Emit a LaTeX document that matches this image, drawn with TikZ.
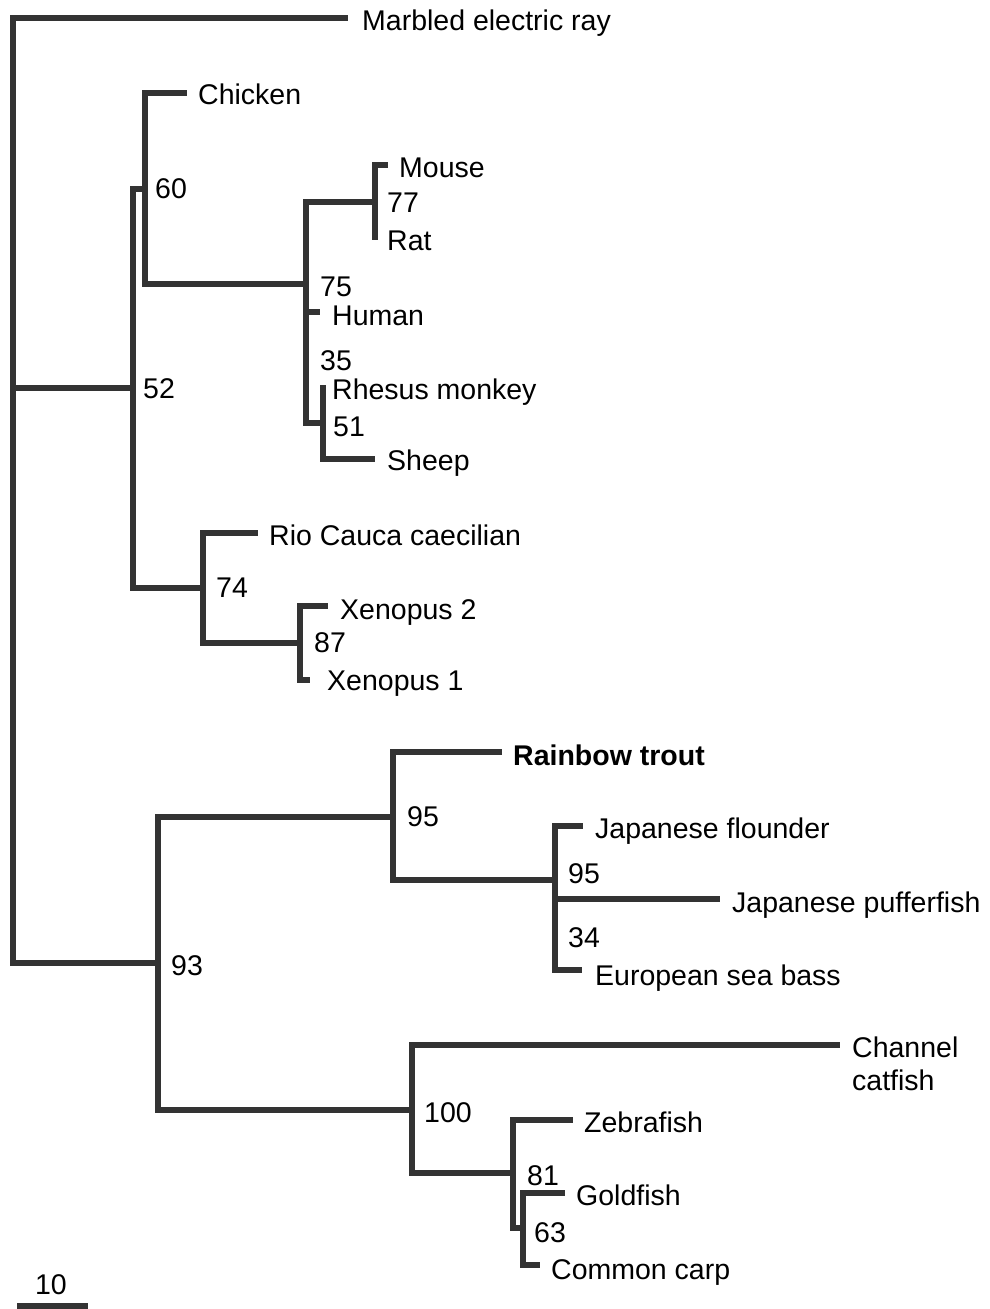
\documentclass[tikz,border=0pt]{standalone}
\usepackage{fontspec}
\setmainfont{Liberation Sans}
\begin{document}
\begin{tikzpicture}[x=1pt,y=-1pt,
  branch/.style={draw=black!80, line width=5.2pt, line join=miter},
  lbl/.style={anchor=base west, inner sep=0pt, font=\fontsize{28.5}{33}\selectfont},
  bs/.style={lbl}]
\useasboundingbox (0,0) rectangle (990,1309);
% internal nodes
\coordinate (root) at (13,388);
\coordinate (n52) at (133,388);
\coordinate (n60) at (145,189);
\coordinate (n75) at (306,284);
\coordinate (n77) at (375,202);
\coordinate (n51) at (323,423);
\coordinate (n74) at (203,588);
\coordinate (n87) at (300,643);
\coordinate (n93) at (158,963);
\coordinate (n95) at (393,817);
\coordinate (n95b) at (555,880);
\coordinate (n100) at (412,1110);
\coordinate (n81) at (513,1173);
\coordinate (n63) at (523,1228);
% leaf ends
\coordinate (eray) at (348,18);
\coordinate (echicken) at (187,93);
\coordinate (emouse) at (388,165);
\coordinate (erat) at (375,240);
\coordinate (ehuman) at (320,312);
\coordinate (erhesus) at (323,385);
\coordinate (esheep) at (375,459);
\coordinate (erio) at (258,533);
\coordinate (exen2) at (328,606);
\coordinate (exen1) at (310,680);
\coordinate (etrout) at (502,752);
\coordinate (eflounder) at (583,826);
\coordinate (epuffer) at (720,899);
\coordinate (ebass) at (582,970);
\coordinate (ecatfish) at (840,1045);
\coordinate (ezebra) at (573,1120);
\coordinate (egold) at (565,1193);
\coordinate (ecarp) at (540,1265);
% branches
\draw[branch] (root) |- (eray);
\draw[branch] (root) |- (n52);
\draw[branch] (root) |- (n93);
\draw[branch] (n52) |- (n60);
\draw[branch] (n52) |- (n74);
\draw[branch] (n60) |- (echicken);
\draw[branch] (n60) |- (n75);
\draw[branch] (n75) |- (n77);
\draw[branch] (n75) |- (ehuman);
\draw[branch] (n75) |- (n51);
\draw[branch] (n77) |- (emouse);
\draw[branch] (n77) |- (erat);
\draw[branch] (n51) |- (erhesus);
\draw[branch] (n51) |- (esheep);
\draw[branch] (n74) |- (erio);
\draw[branch] (n74) |- (n87);
\draw[branch] (n87) |- (exen2);
\draw[branch] (n87) |- (exen1);
\draw[branch] (n93) |- (n95);
\draw[branch] (n93) |- (n100);
\draw[branch] (n95) |- (etrout);
\draw[branch] (n95) |- (n95b);
\draw[branch] (n95b) |- (eflounder);
\draw[branch] (n95b) |- (epuffer);
\draw[branch] (n95b) |- (ebass);
\draw[branch] (n100) |- (ecatfish);
\draw[branch] (n100) |- (n81);
\draw[branch] (n81) |- (ezebra);
\draw[branch] (n81) |- (n63);
\draw[branch] (n63) |- (egold);
\draw[branch] (n63) |- (ecarp);
% leaf labels
\node[lbl] (tray) at (362,30) {Marbled electric ray};
\node[lbl] (tchicken) at (198,104) {Chicken};
\node[lbl] (tmouse) at (399,177) {Mouse};
\node[lbl] (trat) at (387,250) {Rat};
\node[lbl] (thuman) at (332,325) {Human};
\node[lbl] (trhesus) at (332,399) {Rhesus monkey};
\node[lbl] (tsheep) at (387,470) {Sheep};
\node[lbl] (trio) at (269,545) {Rio Cauca caecilian};
\node[lbl] (txen2) at (340,619) {Xenopus 2};
\node[lbl] (txen1) at (327,690) {Xenopus 1};
\node[lbl,font=\fontsize{28.5}{33}\selectfont\bfseries] (ttrout) at (513,765) {Rainbow trout};
\node[lbl] (tflounder) at (595,838) {Japanese flounder};
\node[lbl] (tpuffer) at (732,912) {Japanese pufferfish};
\node[lbl] (tbass) at (595,985) {European sea bass};
\node[lbl] (tchannel) at (852,1057) {Channel};
\node[lbl] (tcatfish) at (852,1090) {catfish};
\node[lbl] (tzebra) at (584,1132) {Zebrafish};
\node[lbl] (tgold) at (576,1205) {Goldfish};
\node[lbl] (tcarp) at (551,1279) {Common carp};
% bootstrap values
\node[bs] (b60) at (155,198) {60};
\node[bs] (b52) at (143,398) {52};
\node[bs] (b77) at (387,212) {77};
\node[bs] (b75) at (320,296) {75};
\node[bs] (b35) at (320,370) {35};
\node[bs] (b51) at (333,436) {51};
\node[bs] (b74) at (216,597) {74};
\node[bs] (b87) at (314,652) {87};
\node[bs] (b95) at (407,826) {95};
\node[bs] (b95b) at (568,883) {95};
\node[bs] (b34) at (568,947) {34};
\node[bs] (b93) at (171,975) {93};
\node[bs] (b100) at (424,1122) {100};
\node[bs] (b81) at (527,1185) {81};
\node[bs] (b63) at (534,1242) {63};
% scale bar
\coordinate (sb1) at (17,1306);
\coordinate (sb2) at (88,1306);
\draw[branch] (sb1) -- (sb2);
\node[lbl, anchor=base] (tscale) at (51,1294) {10};
\end{tikzpicture}
\end{document}
